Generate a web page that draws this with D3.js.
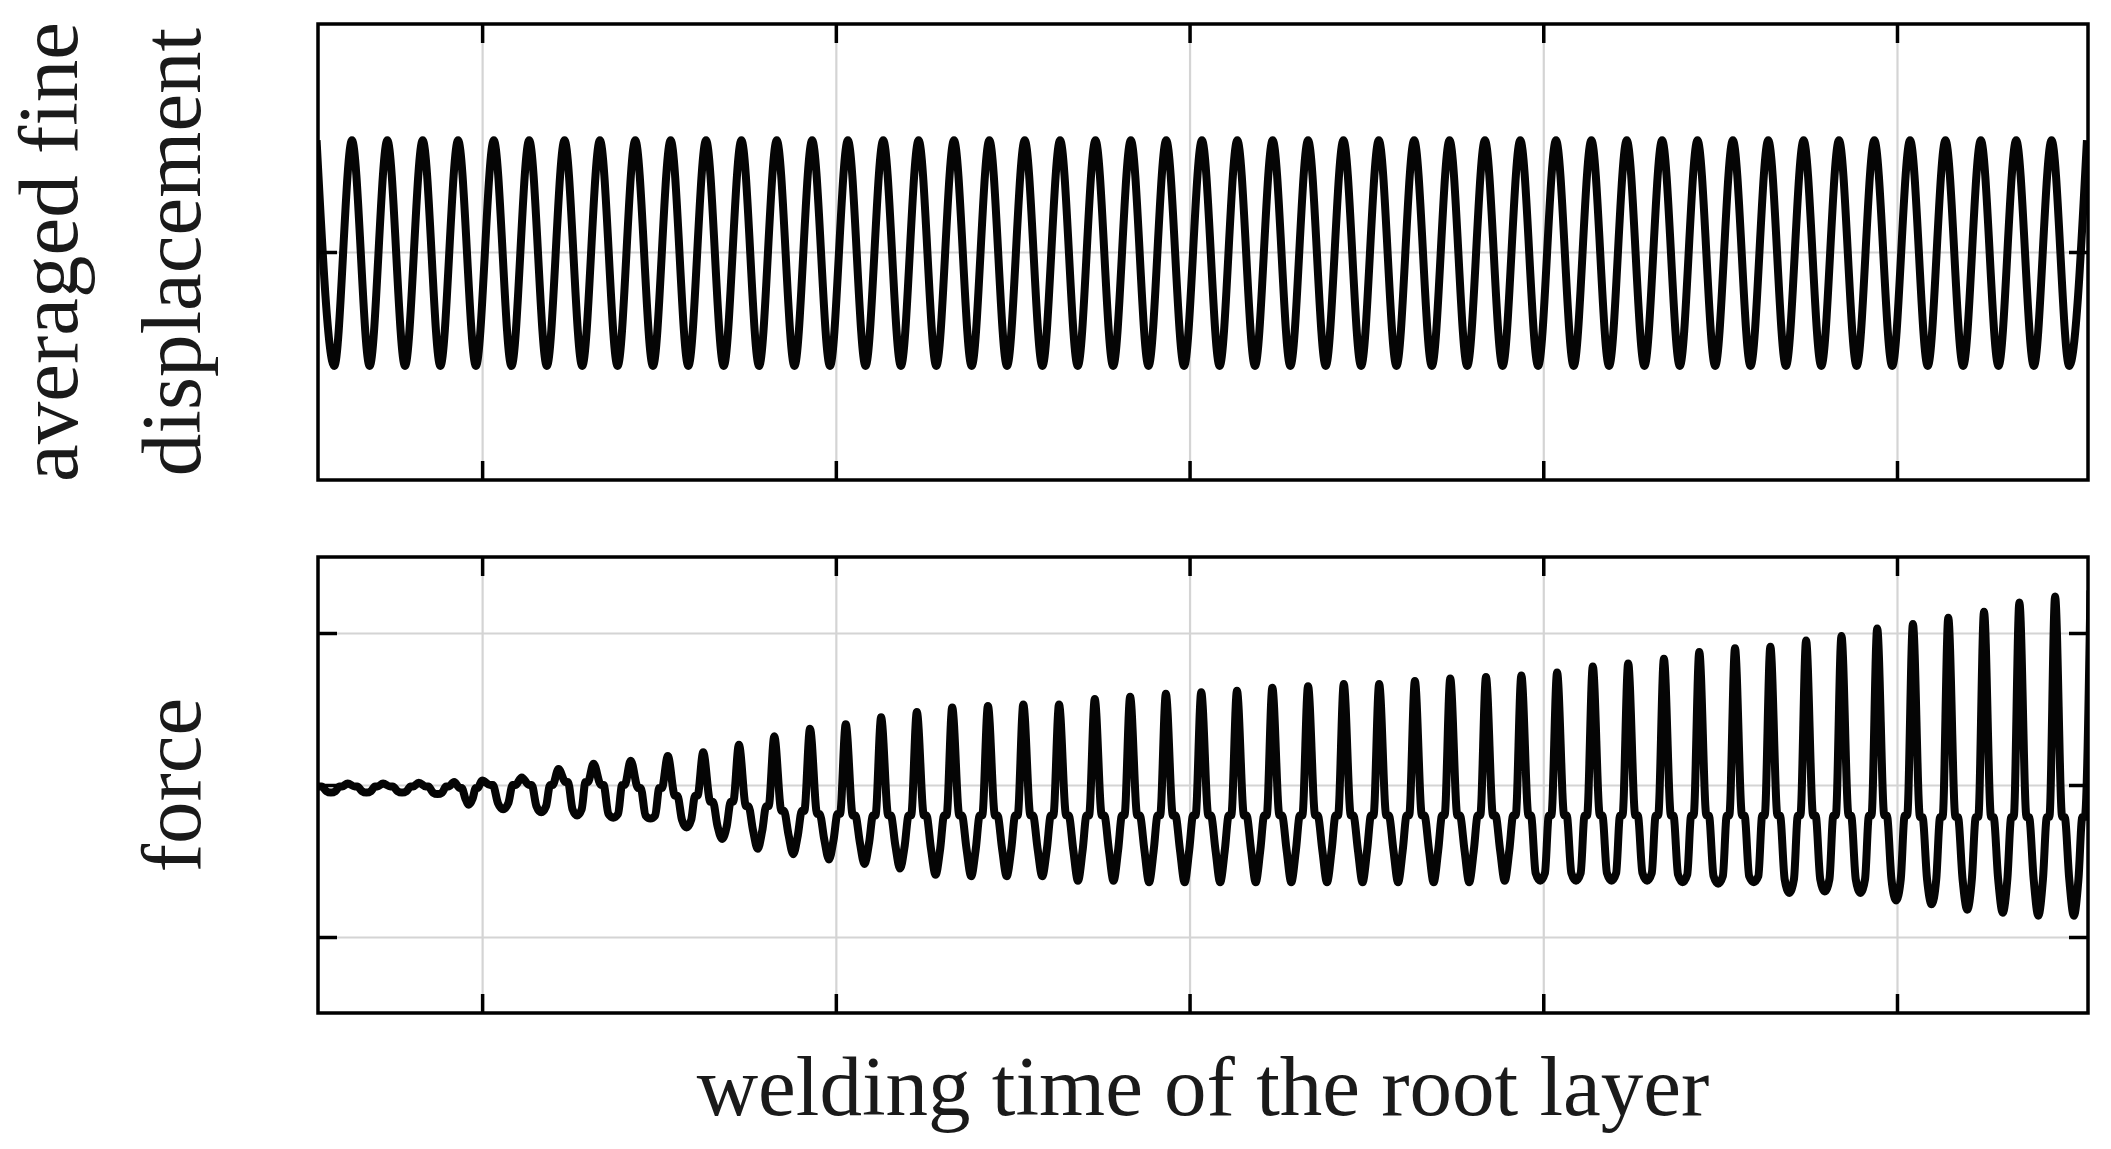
<html lang="en">
<head>
    <meta charset="UTF-8">
    <title>welding signals</title>
    <style>
        body { margin: 0; background: #ffffff; }
        text { font-family: "Liberation Serif", "DejaVu Serif", serif; fill: #1a1a1a; }
    </style>
</head>
<body>
<div class="chart"></div>

<script src="https://d3js.org/d3.v7.min.js"></script>
<script>
    // x axis (seconds, no labels shown in the figure)
    const xTicks = [1, 2, 3, 4, 5]
    const xDomain = [0.536, 5.540]

    // upper panel: averaged fine displacement, one peak and one trough per cycle
    const dispTicks = [0]
    const dispDomain = [-1, 1]
    const dispPeakTime = [0.532, 0.632, 0.732, 0.832, 0.932, 1.033, 1.133, 1.233, 1.333, 1.433,
        1.533, 1.633, 1.733, 1.833, 1.933, 2.034, 2.134, 2.234, 2.334, 2.434,
        2.534, 2.634, 2.734, 2.834, 2.934, 3.035, 3.135, 3.235, 3.335, 3.435,
        3.535, 3.635, 3.735, 3.835, 3.935, 4.036, 4.136, 4.236, 4.336, 4.436,
        4.536, 4.636, 4.736, 4.836, 4.936, 5.037, 5.137, 5.237, 5.337, 5.437, 5.537]
    const dispPeak = [0.49, 0.49, 0.49, 0.49, 0.49, 0.49, 0.49, 0.49, 0.49, 0.49,
        0.49, 0.49, 0.49, 0.49, 0.49, 0.49, 0.49, 0.49, 0.49, 0.49,
        0.49, 0.49, 0.49, 0.49, 0.49, 0.49, 0.49, 0.49, 0.49, 0.49,
        0.49, 0.49, 0.49, 0.49, 0.49, 0.49, 0.49, 0.49, 0.49, 0.49,
        0.49, 0.49, 0.49, 0.49, 0.49, 0.49, 0.49, 0.49, 0.49, 0.49, 0.49]
    const dispTrough = [-0.50, -0.50, -0.50, -0.50, -0.50, -0.50, -0.50, -0.50, -0.50, -0.50,
        -0.50, -0.50, -0.50, -0.50, -0.50, -0.50, -0.50, -0.50, -0.50, -0.50,
        -0.50, -0.50, -0.50, -0.50, -0.50, -0.50, -0.50, -0.50, -0.50, -0.50,
        -0.50, -0.50, -0.50, -0.50, -0.50, -0.50, -0.50, -0.50, -0.50, -0.50,
        -0.50, -0.50, -0.50, -0.50, -0.50, -0.50, -0.50, -0.50, -0.50, -0.50]
    const dispPhase = [0.5]

    // lower panel: force, spike + shoulder + dip per cycle
    const forceTicks = [-1, 0, 1]
    const forceDomain = [-1.5, 1.5]
    const forcePeakTime = [0.519, 0.620, 0.720, 0.821, 0.921, 1.000, 1.112, 1.216, 1.315, 1.420,
        1.525, 1.625, 1.726, 1.826, 1.927, 2.028, 2.128, 2.229, 2.329, 2.430,
        2.530, 2.631, 2.732, 2.832, 2.933, 3.033, 3.134, 3.234, 3.335, 3.436,
        3.536, 3.637, 3.737, 3.838, 3.938, 4.039, 4.140, 4.240, 4.341, 4.441,
        4.542, 4.642, 4.743, 4.843, 4.944, 5.045, 5.145, 5.246, 5.346, 5.447, 5.547]
    const forcePeak = [0.00, 0.01, 0.01, 0.015, 0.02, 0.03, 0.05, 0.105, 0.14, 0.16,
        0.19, 0.215, 0.265, 0.32, 0.37, 0.40, 0.445, 0.48, 0.51, 0.52,
        0.53, 0.53, 0.565, 0.58, 0.60, 0.61, 0.62, 0.64, 0.65, 0.665,
        0.665, 0.685, 0.70, 0.71, 0.72, 0.74, 0.78, 0.80, 0.83, 0.875,
        0.90, 0.91, 0.95, 0.98, 1.03, 1.06, 1.10, 1.14, 1.20, 1.24, 1.28]
    const forceShoulder = [-0.01, -0.01, -0.01, -0.01, -0.02, 0.00, 0.00, 0.02, 0.00, -0.02,
        -0.07, -0.11, -0.14, -0.17, -0.19, -0.20, -0.20, -0.20, -0.20, -0.20,
        -0.20, -0.20, -0.20, -0.20, -0.20, -0.20, -0.20, -0.20, -0.20, -0.20,
        -0.20, -0.20, -0.20, -0.20, -0.20, -0.20, -0.20, -0.20, -0.20, -0.20,
        -0.20, -0.20, -0.20, -0.20, -0.20, -0.21, -0.21, -0.21, -0.21, -0.21]
    const forceFloor = [-0.04, -0.04, -0.04, -0.05, -0.09, -0.12, -0.14, -0.16, -0.19, -0.20,
        -0.23, -0.27, -0.30, -0.33, -0.36, -0.38, -0.40, -0.42, -0.42, -0.42,
        -0.42, -0.43, -0.43, -0.43, -0.43, -0.43, -0.43, -0.43, -0.43, -0.43,
        -0.43, -0.43, -0.43, -0.43, -0.58, -0.58, -0.58, -0.58, -0.59, -0.60,
        -0.60, -0.62, -0.62, -0.62, -0.62, -0.62, -0.62, -0.62, -0.62, -0.62]
    const forceTrough = [-0.05, -0.05, -0.05, -0.06, -0.13, -0.16, -0.18, -0.20, -0.215, -0.22,
        -0.28, -0.355, -0.42, -0.455, -0.49, -0.52, -0.55, -0.59, -0.60, -0.60,
        -0.60, -0.63, -0.63, -0.64, -0.64, -0.64, -0.64, -0.64, -0.64, -0.64,
        -0.64, -0.64, -0.64, -0.63, -0.63, -0.63, -0.63, -0.63, -0.64, -0.65,
        -0.64, -0.71, -0.70, -0.71, -0.76, -0.785, -0.82, -0.84, -0.86, -0.86]
    const forcePhase = [0.20, 0.27, 0.40, 0.53, 0.66, 0.77, 0.84]
    const forcePhaseKey = ['shoulder', 'shoulder', 'floor', 'trough', 'floor', 'shoulder', 'shoulder']

    const xLabel = 'welding time of the root layer'
    const dispLabel = ['averaged fine', 'displacement']
    const forceLabel = 'force'

    const W = 2111, H = 1149
    const left = 318, right = 2088
    const panels = [
        { id: 'disp', top: 24, bottom: 480, domain: dispDomain, ticks: dispTicks },
        { id: 'force', top: 557, bottom: 1013, domain: forceDomain, ticks: forceTicks }
    ]
    const tickLen = 19

    const svg = d3.select('.chart')
        .append('svg')
        .attr('width', W)
        .attr('height', H)
    svg.append('rect').attr('width', W).attr('height', H).attr('fill', '#ffffff')

    const xScale = d3.scaleLinear().domain(xDomain).range([left, right])

    // build the point lists out of the per-cycle readings
    const dispPoints = []
    dispPeakTime.forEach(function (t, k) {
        dispPoints.push([t, dispPeak[k]])
        if (k < dispTrough.length) {
            const span = dispPeakTime[k + 1] - t
            dispPhase.forEach(p => dispPoints.push([t + p * span, dispTrough[k]]))
        }
    })
    const forceSeries = { shoulder: forceShoulder, floor: forceFloor, trough: forceTrough }
    const forcePoints = []
    forcePeakTime.forEach(function (t, k) {
        forcePoints.push([t, forcePeak[k]])
        if (k < forceTrough.length) {
            const span = forcePeakTime[k + 1] - t
            forcePhase.forEach((p, j) => forcePoints.push([t + p * span, forceSeries[forcePhaseKey[j]][k]]))
        }
    })
    const pointsById = { disp: dispPoints, force: forcePoints }

    panels.forEach(function (panel) {
        const h = panel.bottom - panel.top
        const yScale = d3.scaleLinear().domain(panel.domain).range([panel.bottom, panel.top])
        const g = svg.append('g').attr('id', panel.id)

        // grid
        g.append('g')
            .attr('transform', 'translate(0,' + panel.bottom + ')')
            .call(d3.axisBottom(xScale).tickValues(xTicks).tickSize(-h).tickFormat(''))
            .call(a => a.select('.domain').remove())
            .selectAll('line').attr('stroke', '#d4d4d4').attr('stroke-width', 2.2)
        g.append('g')
            .attr('transform', 'translate(' + left + ',0)')
            .call(d3.axisLeft(yScale).tickValues(panel.ticks).tickSize(-(right - left)).tickFormat(''))
            .call(a => a.select('.domain').remove())
            .selectAll('line').attr('stroke', '#d4d4d4').attr('stroke-width', 2.2)

        // signal
        g.append('clipPath').attr('id', 'clip-' + panel.id)
            .append('rect')
            .attr('x', left).attr('y', panel.top)
            .attr('width', right - left).attr('height', h)
        const line = d3.line()
            .x(d => xScale(d[0]))
            .y(d => yScale(d[1]))
            .curve(d3.curveMonotoneX)
        g.append('path')
            .datum(pointsById[panel.id])
            .attr('clip-path', 'url(#clip-' + panel.id + ')')
            .attr('fill', 'none')
            .attr('stroke', '#050505')
            .attr('stroke-width', 8)
            .attr('stroke-linejoin', 'round')
            .attr('d', line)

        // frame and inward ticks
        g.append('rect')
            .attr('x', left).attr('y', panel.top)
            .attr('width', right - left).attr('height', h)
            .attr('fill', 'none').attr('stroke', '#000').attr('stroke-width', 3.5)
        const tickAxes = [
            [d3.axisBottom(xScale).tickValues(xTicks), 'translate(0,' + panel.bottom + ')'],
            [d3.axisTop(xScale).tickValues(xTicks), 'translate(0,' + panel.top + ')'],
            [d3.axisLeft(yScale).tickValues(panel.ticks), 'translate(' + left + ',0)'],
            [d3.axisRight(yScale).tickValues(panel.ticks), 'translate(' + right + ',0)']
        ]
        tickAxes.forEach(function (ax) {
            g.append('g')
                .attr('transform', ax[1])
                .call(ax[0].tickSize(-tickLen).tickFormat(''))
                .call(a => a.select('.domain').remove())
                .selectAll('line').attr('stroke', '#000').attr('stroke-width', 3.5)
        })
    })

    // axis titles
    svg.append('text')
        .attr('x', (left + right) / 2)
        .attr('y', 1115)
        .attr('text-anchor', 'middle')
        .attr('font-size', 85)
        .text(xLabel)
    const dispMid = (panels[0].top + panels[0].bottom) / 2
    const forceMid = (panels[1].top + panels[1].bottom) / 2
    svg.append('text')
        .attr('transform', 'translate(77,' + dispMid + ') rotate(-90)')
        .attr('text-anchor', 'middle')
        .attr('font-size', 85)
        .text(dispLabel[0])
    svg.append('text')
        .attr('transform', 'translate(200,' + dispMid + ') rotate(-90)')
        .attr('text-anchor', 'middle')
        .attr('font-size', 85)
        .text(dispLabel[1])
    svg.append('text')
        .attr('transform', 'translate(200,' + forceMid + ') rotate(-90)')
        .attr('text-anchor', 'middle')
        .attr('font-size', 85)
        .text(forceLabel)
</script>
</body>
</html>
